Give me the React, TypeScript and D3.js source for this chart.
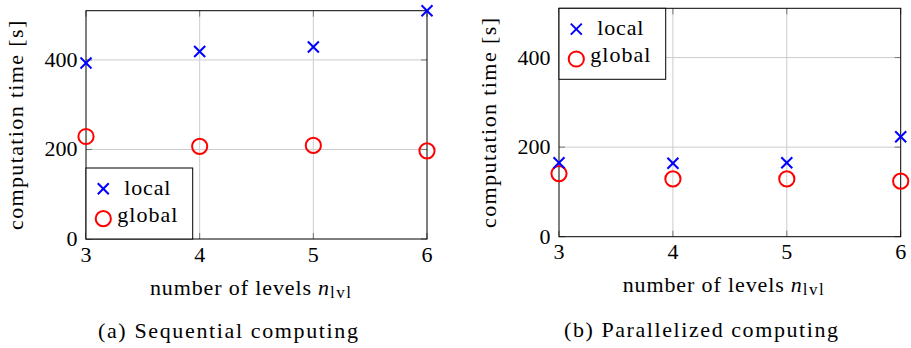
import React from "react";
import * as d3 from "d3";

// Number of hierarchy levels on the x axis
const levels = [3, 4, 5, 6];
// Computation time in seconds, sequential run
const seqLocal = [393, 419, 429, 510];
const seqGlobal = [229, 207, 209, 197];
// Computation time in seconds, parallel run
const parLocal = [165, 164, 165, 223];
const parGlobal = [141, 129, 129, 124];
const yTicks = [0, 200, 400];
const xTicks = [3, 4, 5, 6];
const yMax = 510;

const FONT = "Liberation Serif";
const FS = 22;
const BLUE = "#0000ff";
const RED = "#ff0000";
const GRID = "#cccccc";
const TICK = "#777777";

type PanelProps = {
  local: number[];
  global: number[];
  left: number;
  right: number;
  top: number;
  bottom: number;
  legendTop: number; // y of the legend box top
  yLabelX: number;
  yLabelY0: number;
  yLabelY1: number;
  xLabelX: number;
  xLabelBase: number;
  caption: string;
  captionX0: number;
  captionX1: number;
  captionBase: number;
};

function Cross({ x, y, s = 5.5 }: { x: number; y: number; s?: number }) {
  return (
    <g stroke={BLUE} strokeWidth={2} strokeLinecap="butt">
      <line x1={x - s} y1={y - s} x2={x + s} y2={y + s} />
      <line x1={x - s} y1={y + s} x2={x + s} y2={y - s} />
    </g>
  );
}

function Ring({ x, y }: { x: number; y: number }) {
  return <circle cx={x} cy={y} r={7.6} fill="none" stroke={RED} strokeWidth={2} />;
}

function Panel(p: PanelProps) {
  const xs = d3.scaleLinear().domain([3, 6]).range([p.left, p.right]);
  const ys = d3.scaleLinear().domain([0, yMax]).range([p.bottom, p.top]);
  const tickLen = 6;
  const legW = 106.7;
  const legH = 71;
  const legCx = p.left + legW / 2 + 8;
  const markX = p.left + 17.3;
  const txt = { fontFamily: FONT };
  return (
    <g style={txt} fill="#000">
      {/* grid */}
      {xTicks.slice(1, -1).map((t) => (
        <line key={"gx" + t} x1={xs(t)} x2={xs(t)} y1={p.top} y2={p.bottom} stroke={GRID} strokeWidth={1} />
      ))}
      {yTicks.slice(1).map((t) => (
        <line key={"gy" + t} x1={p.left} x2={p.right} y1={ys(t)} y2={ys(t)} stroke={GRID} strokeWidth={1} />
      ))}
      {/* inner tick marks */}
      {xTicks.map((t) => (
        <g key={"tx" + t} stroke={TICK} strokeWidth={1}>
          <line x1={xs(t)} x2={xs(t)} y1={p.bottom} y2={p.bottom - tickLen} />
          <line x1={xs(t)} x2={xs(t)} y1={p.top} y2={p.top + tickLen} />
        </g>
      ))}
      {yTicks.map((t) => (
        <g key={"ty" + t} stroke={TICK} strokeWidth={1}>
          <line x1={p.left} x2={p.left + tickLen} y1={ys(t)} y2={ys(t)} />
          <line x1={p.right} x2={p.right - tickLen} y1={ys(t)} y2={ys(t)} />
        </g>
      ))}
      {/* frame */}
      <rect x={p.left} y={p.top} width={p.right - p.left} height={p.bottom - p.top} fill="none" stroke="#000" strokeWidth={1} />
      {/* tick labels */}
      {yTicks.map((t) => (
        <text key={"yl" + t} x={p.left - 8.5} y={ys(t) + 7} textAnchor="end" fontSize={FS} style={txt}>
          {t}
        </text>
      ))}
      {xTicks.map((t) => (
        <text key={"xl" + t} x={xs(t)} y={p.bottom + 22.7} textAnchor="middle" fontSize={FS} style={txt}>
          {t}
        </text>
      ))}
      {/* data */}
      {levels.map((l, i) => (
        <Ring key={"g" + l} x={xs(l)} y={ys(p.global[i])} />
      ))}
      {levels.map((l, i) => (
        <Cross key={"c" + l} x={xs(l)} y={ys(p.local[i])} />
      ))}
      {/* legend */}
      <rect x={p.left} y={p.legendTop} width={legW} height={legH} fill="#fff" stroke="#000" strokeWidth={1} />
      <Cross x={markX} y={p.legendTop + 20.8} />
      <Ring x={markX} y={p.legendTop + 50.7} />
      <text x={legCx} y={p.legendTop + 26.7} textAnchor="middle" fontSize={FS} style={txt} textLength={46} lengthAdjust="spacing">
        local
      </text>
      <text x={legCx} y={p.legendTop + 53.7} textAnchor="middle" fontSize={FS} style={txt} textLength={60} lengthAdjust="spacing">
        global
      </text>
      {/* y axis label */}
      <text
        transform={`translate(${p.yLabelX},${(p.yLabelY0 + p.yLabelY1) / 2}) rotate(-90)`}
        textAnchor="middle"
        fontSize={FS}
        style={txt}
        textLength={p.yLabelY1 - p.yLabelY0}
        lengthAdjust="spacing"
      >
        computation time [s]
      </text>
      {/* x axis label */}
      <text x={p.xLabelX} y={p.xLabelBase} fontSize={FS} style={txt} textLength={161} lengthAdjust="spacing">
        number of levels
      </text>
      <text x={p.xLabelX + 168} y={p.xLabelBase} fontSize={FS} fontStyle="italic" style={txt}>
        n
      </text>
      <text x={p.xLabelX + 180} y={p.xLabelBase + 3.5} fontSize={17} style={txt} textLength={21} lengthAdjust="spacing">
        lvl
      </text>
      {/* caption */}
      <text
        x={p.captionX0}
        y={p.captionBase}
        fontSize={FS}
        style={txt}
        textLength={p.captionX1 - p.captionX0}
        lengthAdjust="spacing"
      >
        {p.caption}
      </text>
    </g>
  );
}

export default function App() {
  return (
    <svg
      width={911}
      height={348}
      viewBox="0 0 911 348"
      style={{ position: "absolute", left: 0, top: 0, background: "#fff", fontFamily: FONT }}
    >
      <rect x={0} y={0} width={911} height={348} fill="#fff" />
      <Panel
        local={seqLocal}
        global={seqGlobal}
        left={86}
        right={427}
        top={10.7}
        bottom={239}
        legendTop={168}
        yLabelX={23}
        yLabelY0={20.7}
        yLabelY1={230}
        xLabelX={150}
        xLabelBase={294.5}
        caption="(a) Sequential computing"
        captionX0={98}
        captionX1={358}
        captionBase={338}
      />
      <Panel
        local={parLocal}
        global={parGlobal}
        left={559}
        right={900.7}
        top={8.3}
        bottom={236.7}
        legendTop={8.3}
        yLabelX={496}
        yLabelY0={18}
        yLabelY1={228}
        xLabelX={622.7}
        xLabelBase={291.5}
        caption="(b) Parallelized computing"
        captionX0={564}
        captionX1={838}
        captionBase={336.5}
      />
    </svg>
  );
}
